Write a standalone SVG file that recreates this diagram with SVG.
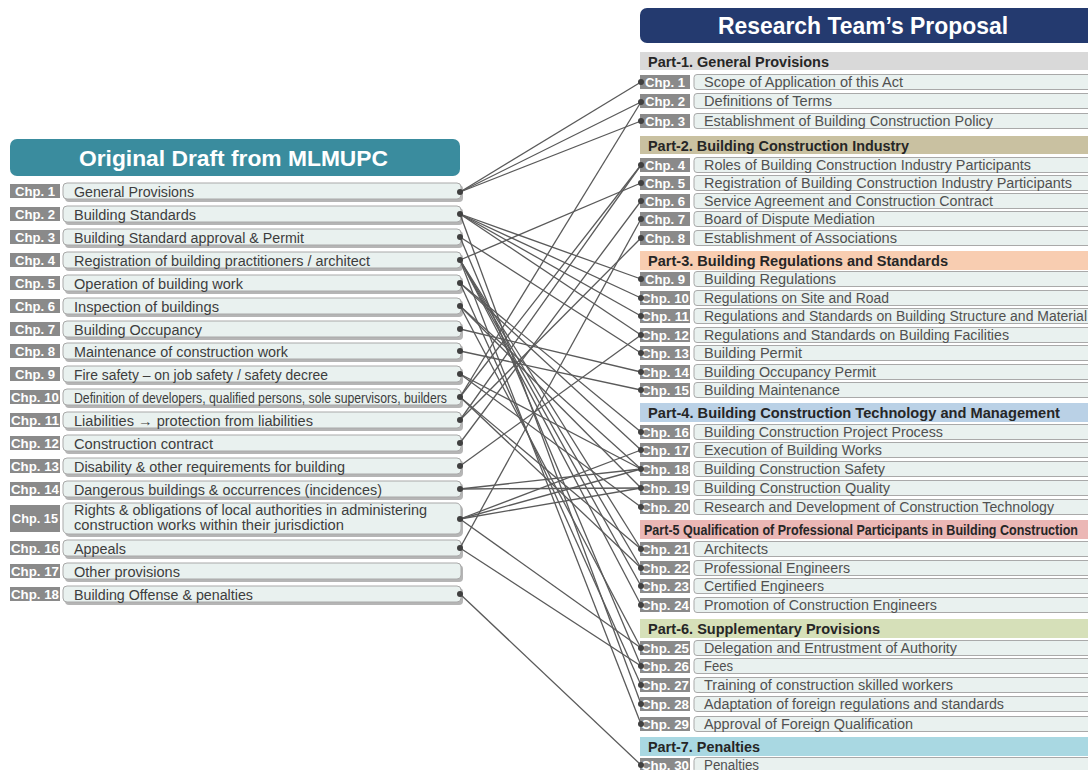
<svg xmlns="http://www.w3.org/2000/svg" width="1088" height="770" viewBox="0 0 1088 770">
<defs>
<style>
.hdrL{fill:#3a8c9e}
.hdrR{fill:#243a6f}
.hdrT{font-family:"Liberation Sans",Arial,sans-serif;font-weight:bold;fill:#ffffff}
.lab{fill:#8a8a8a}
.labT{font-family:"Liberation Sans",Arial,sans-serif;font-weight:bold;font-size:13px;fill:#ffffff}
.box{fill:#e9f1ef;stroke:#a9a9a9;stroke-width:1}
.shadow{fill:#b5b5b5}
.txt{font-family:"Liberation Sans",Arial,sans-serif;font-size:14px;fill:#3d3d3d}
.rtxt{font-family:"Liberation Sans",Arial,sans-serif;font-size:14px;fill:#505050}
.part{font-family:"Liberation Sans",Arial,sans-serif;font-weight:bold;font-size:14.5px;fill:#262626}
.con line{stroke:#5a5a5a;stroke-width:1.3}
.dot{fill:#404040}
</style>
</defs>
<rect width="1088" height="770" fill="#ffffff"/>

<g id="left-header">
<rect x="10" y="139" width="450" height="37" rx="7" class="hdrL"/>
<text x="79" y="166" class="hdrT" font-size="22" textLength="309" lengthAdjust="spacingAndGlyphs">Original Draft from MLMUPC</text>
</g>

<g id="L1"><rect x="10" y="184" width="50" height="14" class="lab"/><text x="15" y="196" class="labT" textLength="40" lengthAdjust="spacingAndGlyphs">Chp. 1</text><rect x="65" y="185" width="398" height="17" rx="4" class="shadow"/><rect x="63" y="183" width="398" height="16" rx="4" class="box"/><text x="74" y="196.5" class="txt" textLength="120" lengthAdjust="spacingAndGlyphs">General Provisions</text></g>
<g id="L2"><rect x="10" y="207" width="50" height="14" class="lab"/><text x="15" y="219" class="labT" textLength="40" lengthAdjust="spacingAndGlyphs">Chp. 2</text><rect x="65" y="208" width="398" height="17" rx="4" class="shadow"/><rect x="63" y="206" width="398" height="16" rx="4" class="box"/><text x="74" y="219.5" class="txt" textLength="122" lengthAdjust="spacingAndGlyphs">Building Standards</text></g>
<g id="L3"><rect x="10" y="230" width="50" height="14" class="lab"/><text x="15" y="242" class="labT" textLength="40" lengthAdjust="spacingAndGlyphs">Chp. 3</text><rect x="65" y="231" width="398" height="17" rx="4" class="shadow"/><rect x="63" y="229" width="398" height="16" rx="4" class="box"/><text x="74" y="242.5" class="txt" textLength="230" lengthAdjust="spacingAndGlyphs">Building Standard approval &amp; Permit</text></g>
<g id="L4"><rect x="10" y="253" width="50" height="14" class="lab"/><text x="15" y="265" class="labT" textLength="40" lengthAdjust="spacingAndGlyphs">Chp. 4</text><rect x="65" y="254" width="398" height="17" rx="4" class="shadow"/><rect x="63" y="252" width="398" height="16" rx="4" class="box"/><text x="74" y="265.5" class="txt" textLength="296" lengthAdjust="spacingAndGlyphs">Registration of building practitioners / architect</text></g>
<g id="L5"><rect x="10" y="276" width="50" height="14" class="lab"/><text x="15" y="288" class="labT" textLength="40" lengthAdjust="spacingAndGlyphs">Chp. 5</text><rect x="65" y="277" width="398" height="17" rx="4" class="shadow"/><rect x="63" y="275" width="398" height="16" rx="4" class="box"/><text x="74" y="288.5" class="txt" textLength="169" lengthAdjust="spacingAndGlyphs">Operation of building work</text></g>
<g id="L6"><rect x="10" y="299" width="50" height="14" class="lab"/><text x="15" y="311" class="labT" textLength="40" lengthAdjust="spacingAndGlyphs">Chp. 6</text><rect x="65" y="300" width="398" height="17" rx="4" class="shadow"/><rect x="63" y="298" width="398" height="16" rx="4" class="box"/><text x="74" y="311.5" class="txt" textLength="145" lengthAdjust="spacingAndGlyphs">Inspection of buildings</text></g>
<g id="L7"><rect x="10" y="322" width="50" height="14" class="lab"/><text x="15" y="334" class="labT" textLength="40" lengthAdjust="spacingAndGlyphs">Chp. 7</text><rect x="65" y="323" width="398" height="17" rx="4" class="shadow"/><rect x="63" y="321" width="398" height="16" rx="4" class="box"/><text x="74" y="334.5" class="txt" textLength="128" lengthAdjust="spacingAndGlyphs">Building Occupancy</text></g>
<g id="L8"><rect x="10" y="344" width="50" height="14" class="lab"/><text x="15" y="356" class="labT" textLength="40" lengthAdjust="spacingAndGlyphs">Chp. 8</text><rect x="65" y="345" width="398" height="17" rx="4" class="shadow"/><rect x="63" y="343" width="398" height="16" rx="4" class="box"/><text x="74" y="356.5" class="txt" textLength="214" lengthAdjust="spacingAndGlyphs">Maintenance of construction work</text></g>
<g id="L9"><rect x="10" y="367" width="50" height="14" class="lab"/><text x="15" y="379" class="labT" textLength="40" lengthAdjust="spacingAndGlyphs">Chp. 9</text><rect x="65" y="368" width="398" height="17" rx="4" class="shadow"/><rect x="63" y="366" width="398" height="16" rx="4" class="box"/><text x="74" y="379.5" class="txt" textLength="254" lengthAdjust="spacingAndGlyphs">Fire safety – on job safety / safety decree</text></g>
<g id="L10"><rect x="10" y="390" width="50" height="14" class="lab"/><text x="11" y="402" class="labT" textLength="48" lengthAdjust="spacingAndGlyphs">Chp. 10</text><rect x="65" y="391" width="398" height="17" rx="4" class="shadow"/><rect x="63" y="389" width="398" height="16" rx="4" class="box"/><text x="74" y="402.5" class="txt" textLength="373" lengthAdjust="spacingAndGlyphs">Definition of developers, qualified persons, sole supervisors, builders</text></g>
<g id="L11"><rect x="10" y="413" width="50" height="14" class="lab"/><text x="11" y="425" class="labT" textLength="48" lengthAdjust="spacingAndGlyphs">Chp. 11</text><rect x="65" y="414" width="398" height="17" rx="4" class="shadow"/><rect x="63" y="412" width="398" height="16" rx="4" class="box"/><text x="74" y="425.5" class="txt" textLength="239" lengthAdjust="spacingAndGlyphs">Liabilities → protection from liabilities</text></g>
<g id="L12"><rect x="10" y="436" width="50" height="14" class="lab"/><text x="11" y="448" class="labT" textLength="48" lengthAdjust="spacingAndGlyphs">Chp. 12</text><rect x="65" y="437" width="398" height="17" rx="4" class="shadow"/><rect x="63" y="435" width="398" height="16" rx="4" class="box"/><text x="74" y="448.5" class="txt" textLength="139" lengthAdjust="spacingAndGlyphs">Construction contract</text></g>
<g id="L13"><rect x="10" y="459" width="50" height="14" class="lab"/><text x="11" y="471" class="labT" textLength="48" lengthAdjust="spacingAndGlyphs">Chp. 13</text><rect x="65" y="460" width="398" height="17" rx="4" class="shadow"/><rect x="63" y="458" width="398" height="16" rx="4" class="box"/><text x="74" y="471.5" class="txt" textLength="271" lengthAdjust="spacingAndGlyphs">Disability &amp; other requirements for building</text></g>
<g id="L14"><rect x="10" y="482" width="50" height="14" class="lab"/><text x="11" y="494" class="labT" textLength="48" lengthAdjust="spacingAndGlyphs">Chp. 14</text><rect x="65" y="483" width="398" height="17" rx="4" class="shadow"/><rect x="63" y="481" width="398" height="16" rx="4" class="box"/><text x="74" y="494.5" class="txt" textLength="308" lengthAdjust="spacingAndGlyphs">Dangerous buildings &amp; occurrences (incidences)</text></g>
<g id="L15"><rect x="10" y="505" width="50" height="27" class="lab"/><text x="12" y="523" class="labT" textLength="46" lengthAdjust="spacingAndGlyphs">Chp. 15</text><rect x="65" y="505" width="398" height="32" rx="5" class="shadow"/><rect x="63" y="503" width="398" height="31" rx="5" class="box"/><text x="74" y="515" class="txt" textLength="353" lengthAdjust="spacingAndGlyphs">Rights &amp; obligations of local authorities in administering</text><text x="74" y="530" class="txt" textLength="270" lengthAdjust="spacingAndGlyphs">construction works within their jurisdiction</text></g>
<g id="L16"><rect x="10" y="541" width="50" height="14" class="lab"/><text x="11" y="553" class="labT" textLength="48" lengthAdjust="spacingAndGlyphs">Chp. 16</text><rect x="65" y="542" width="398" height="17" rx="4" class="shadow"/><rect x="63" y="540" width="398" height="16" rx="4" class="box"/><text x="74" y="553.5" class="txt" textLength="52" lengthAdjust="spacingAndGlyphs">Appeals</text></g>
<g id="L17"><rect x="10" y="564" width="50" height="14" class="lab"/><text x="11" y="576" class="labT" textLength="48" lengthAdjust="spacingAndGlyphs">Chp. 17</text><rect x="65" y="565" width="398" height="17" rx="4" class="shadow"/><rect x="63" y="563" width="398" height="16" rx="4" class="box"/><text x="74" y="576.5" class="txt" textLength="106" lengthAdjust="spacingAndGlyphs">Other provisions</text></g>
<g id="L18"><rect x="10" y="587" width="50" height="14" class="lab"/><text x="11" y="599" class="labT" textLength="48" lengthAdjust="spacingAndGlyphs">Chp. 18</text><rect x="65" y="588" width="398" height="17" rx="4" class="shadow"/><rect x="63" y="586" width="398" height="16" rx="4" class="box"/><text x="74" y="599.5" class="txt" textLength="179" lengthAdjust="spacingAndGlyphs">Building Offense &amp; penalties</text></g>

<g id="right-header">
<rect x="640" y="8" width="460" height="35" rx="7" class="hdrR"/>
<text x="718" y="34" class="hdrT" font-size="23" textLength="290" lengthAdjust="spacingAndGlyphs">Research Team’s Proposal</text>
</g>

<g id="P1"><rect x="640" y="52" width="448" height="18" fill="#d9d9d9"/><text x="648" y="66.5" class="part" textLength="181" lengthAdjust="spacingAndGlyphs">Part-1. General Provisions</text></g>
<g id="P2"><rect x="640" y="136" width="448" height="18" fill="#c9c1a1"/><text x="648" y="150.5" class="part" textLength="261" lengthAdjust="spacingAndGlyphs">Part-2. Building Construction Industry</text></g>
<g id="P3"><rect x="640" y="251" width="448" height="19" fill="#f8cdb1"/><text x="648" y="266" class="part" textLength="300" lengthAdjust="spacingAndGlyphs">Part-3. Building Regulations and Standards</text></g>
<g id="P4"><rect x="640" y="403" width="448" height="19" fill="#bad1e6"/><text x="648" y="418" class="part" textLength="412" lengthAdjust="spacingAndGlyphs">Part-4. Building Construction Technology and Management</text></g>
<g id="P5"><rect x="640" y="520" width="448" height="19" fill="#ebb7b5"/><text x="644" y="534.5" class="part" font-size="13.5" textLength="434" lengthAdjust="spacingAndGlyphs">Part-5 Qualification of Professional Participants in Building Construction</text></g>
<g id="P6"><rect x="640" y="619" width="448" height="19" fill="#d6e0b9"/><text x="648" y="634" class="part" textLength="232" lengthAdjust="spacingAndGlyphs">Part-6. Supplementary Provisions</text></g>
<g id="P7"><rect x="640" y="737" width="448" height="19" fill="#a9d8e2"/><text x="648" y="752" class="part" textLength="112" lengthAdjust="spacingAndGlyphs">Part-7. Penalties</text></g>

<g id="R1"><rect x="640" y="75" width="50" height="14" class="lab"/><text x="645" y="87" class="labT" textLength="40" lengthAdjust="spacingAndGlyphs">Chp. 1</text><rect x="694" y="74.5" width="400" height="15" rx="3" class="box"/><text x="704" y="87" class="rtxt" textLength="199" lengthAdjust="spacingAndGlyphs">Scope of Application of this Act</text></g>
<g id="R2"><rect x="640" y="94" width="50" height="14" class="lab"/><text x="645" y="106" class="labT" textLength="40" lengthAdjust="spacingAndGlyphs">Chp. 2</text><rect x="694" y="93.5" width="400" height="15" rx="3" class="box"/><text x="704" y="106" class="rtxt" textLength="128" lengthAdjust="spacingAndGlyphs">Definitions of Terms</text></g>
<g id="R3"><rect x="640" y="114" width="50" height="14" class="lab"/><text x="645" y="126" class="labT" textLength="40" lengthAdjust="spacingAndGlyphs">Chp. 3</text><rect x="694" y="113.5" width="400" height="15" rx="3" class="box"/><text x="704" y="126" class="rtxt" textLength="289" lengthAdjust="spacingAndGlyphs">Establishment of Building Construction Policy</text></g>
<g id="R4"><rect x="640" y="158" width="50" height="14" class="lab"/><text x="645" y="170" class="labT" textLength="40" lengthAdjust="spacingAndGlyphs">Chp. 4</text><rect x="694" y="157.5" width="400" height="15" rx="3" class="box"/><text x="704" y="170" class="rtxt" textLength="327" lengthAdjust="spacingAndGlyphs">Roles of Building Construction Industry Participants</text></g>
<g id="R5"><rect x="640" y="176" width="50" height="14" class="lab"/><text x="645" y="188" class="labT" textLength="40" lengthAdjust="spacingAndGlyphs">Chp. 5</text><rect x="694" y="175.5" width="400" height="15" rx="3" class="box"/><text x="704" y="188" class="rtxt" textLength="368" lengthAdjust="spacingAndGlyphs">Registration of Building Construction Industry Participants</text></g>
<g id="R6"><rect x="640" y="194" width="50" height="14" class="lab"/><text x="645" y="206" class="labT" textLength="40" lengthAdjust="spacingAndGlyphs">Chp. 6</text><rect x="694" y="193.5" width="400" height="15" rx="3" class="box"/><text x="704" y="206" class="rtxt" textLength="289" lengthAdjust="spacingAndGlyphs">Service Agreement and Construction Contract</text></g>
<g id="R7"><rect x="640" y="212" width="50" height="14" class="lab"/><text x="645" y="224" class="labT" textLength="40" lengthAdjust="spacingAndGlyphs">Chp. 7</text><rect x="694" y="211.5" width="400" height="15" rx="3" class="box"/><text x="704" y="224" class="rtxt" textLength="171" lengthAdjust="spacingAndGlyphs">Board of Dispute Mediation</text></g>
<g id="R8"><rect x="640" y="231" width="50" height="14" class="lab"/><text x="645" y="243" class="labT" textLength="40" lengthAdjust="spacingAndGlyphs">Chp. 8</text><rect x="694" y="230.5" width="400" height="15" rx="3" class="box"/><text x="704" y="243" class="rtxt" textLength="193" lengthAdjust="spacingAndGlyphs">Establishment of Associations</text></g>
<g id="R9"><rect x="640" y="272" width="50" height="14" class="lab"/><text x="645" y="284" class="labT" textLength="40" lengthAdjust="spacingAndGlyphs">Chp. 9</text><rect x="694" y="271.5" width="400" height="15" rx="3" class="box"/><text x="704" y="284" class="rtxt" textLength="132" lengthAdjust="spacingAndGlyphs">Building Regulations</text></g>
<g id="R10"><rect x="640" y="291" width="50" height="14" class="lab"/><text x="641" y="303" class="labT" textLength="48" lengthAdjust="spacingAndGlyphs">Chp. 10</text><rect x="694" y="290.5" width="400" height="15" rx="3" class="box"/><text x="704" y="303" class="rtxt" textLength="185" lengthAdjust="spacingAndGlyphs">Regulations on Site and Road</text></g>
<g id="R11"><rect x="640" y="309" width="50" height="14" class="lab"/><text x="641" y="321" class="labT" textLength="48" lengthAdjust="spacingAndGlyphs">Chp. 11</text><rect x="694" y="308.5" width="400" height="15" rx="3" class="box"/><text x="704" y="321" class="rtxt" textLength="383" lengthAdjust="spacingAndGlyphs">Regulations and Standards on Building Structure and Material</text></g>
<g id="R12"><rect x="640" y="328" width="50" height="14" class="lab"/><text x="641" y="340" class="labT" textLength="48" lengthAdjust="spacingAndGlyphs">Chp. 12</text><rect x="694" y="327.5" width="400" height="15" rx="3" class="box"/><text x="704" y="340" class="rtxt" textLength="305" lengthAdjust="spacingAndGlyphs">Regulations and Standards on Building Facilities</text></g>
<g id="R13"><rect x="640" y="346" width="50" height="14" class="lab"/><text x="641" y="358" class="labT" textLength="48" lengthAdjust="spacingAndGlyphs">Chp. 13</text><rect x="694" y="345.5" width="400" height="15" rx="3" class="box"/><text x="704" y="358" class="rtxt" textLength="98" lengthAdjust="spacingAndGlyphs">Building Permit</text></g>
<g id="R14"><rect x="640" y="365" width="50" height="14" class="lab"/><text x="641" y="377" class="labT" textLength="48" lengthAdjust="spacingAndGlyphs">Chp. 14</text><rect x="694" y="364.5" width="400" height="15" rx="3" class="box"/><text x="704" y="377" class="rtxt" textLength="172" lengthAdjust="spacingAndGlyphs">Building Occupancy Permit</text></g>
<g id="R15"><rect x="640" y="383" width="50" height="14" class="lab"/><text x="641" y="395" class="labT" textLength="48" lengthAdjust="spacingAndGlyphs">Chp. 15</text><rect x="694" y="382.5" width="400" height="15" rx="3" class="box"/><text x="704" y="395" class="rtxt" textLength="136" lengthAdjust="spacingAndGlyphs">Building Maintenance</text></g>
<g id="R16"><rect x="640" y="425" width="50" height="14" class="lab"/><text x="641" y="437" class="labT" textLength="48" lengthAdjust="spacingAndGlyphs">Chp. 16</text><rect x="694" y="424.5" width="400" height="15" rx="3" class="box"/><text x="704" y="437" class="rtxt" textLength="239" lengthAdjust="spacingAndGlyphs">Building Construction Project Process</text></g>
<g id="R17"><rect x="640" y="443" width="50" height="14" class="lab"/><text x="641" y="455" class="labT" textLength="48" lengthAdjust="spacingAndGlyphs">Chp. 17</text><rect x="694" y="442.5" width="400" height="15" rx="3" class="box"/><text x="704" y="455" class="rtxt" textLength="178" lengthAdjust="spacingAndGlyphs">Execution of Building Works</text></g>
<g id="R18"><rect x="640" y="462" width="50" height="14" class="lab"/><text x="641" y="474" class="labT" textLength="48" lengthAdjust="spacingAndGlyphs">Chp. 18</text><rect x="694" y="461.5" width="400" height="15" rx="3" class="box"/><text x="704" y="474" class="rtxt" textLength="181" lengthAdjust="spacingAndGlyphs">Building Construction Safety</text></g>
<g id="R19"><rect x="640" y="481" width="50" height="14" class="lab"/><text x="641" y="493" class="labT" textLength="48" lengthAdjust="spacingAndGlyphs">Chp. 19</text><rect x="694" y="480.5" width="400" height="15" rx="3" class="box"/><text x="704" y="493" class="rtxt" textLength="186" lengthAdjust="spacingAndGlyphs">Building Construction Quality</text></g>
<g id="R20"><rect x="640" y="500" width="50" height="14" class="lab"/><text x="641" y="512" class="labT" textLength="48" lengthAdjust="spacingAndGlyphs">Chp. 20</text><rect x="694" y="499.5" width="400" height="15" rx="3" class="box"/><text x="704" y="512" class="rtxt" textLength="350" lengthAdjust="spacingAndGlyphs">Research and Development of Construction Technology</text></g>
<g id="R21"><rect x="640" y="542" width="50" height="14" class="lab"/><text x="641" y="554" class="labT" textLength="48" lengthAdjust="spacingAndGlyphs">Chp. 21</text><rect x="694" y="541.5" width="400" height="15" rx="3" class="box"/><text x="704" y="554" class="rtxt" textLength="64" lengthAdjust="spacingAndGlyphs">Architects</text></g>
<g id="R22"><rect x="640" y="561" width="50" height="14" class="lab"/><text x="641" y="573" class="labT" textLength="48" lengthAdjust="spacingAndGlyphs">Chp. 22</text><rect x="694" y="560.5" width="400" height="15" rx="3" class="box"/><text x="704" y="573" class="rtxt" textLength="146" lengthAdjust="spacingAndGlyphs">Professional Engineers</text></g>
<g id="R23"><rect x="640" y="579" width="50" height="14" class="lab"/><text x="641" y="591" class="labT" textLength="48" lengthAdjust="spacingAndGlyphs">Chp. 23</text><rect x="694" y="578.5" width="400" height="15" rx="3" class="box"/><text x="704" y="591" class="rtxt" textLength="120" lengthAdjust="spacingAndGlyphs">Certified Engineers</text></g>
<g id="R24"><rect x="640" y="598" width="50" height="14" class="lab"/><text x="641" y="610" class="labT" textLength="48" lengthAdjust="spacingAndGlyphs">Chp. 24</text><rect x="694" y="597.5" width="400" height="15" rx="3" class="box"/><text x="704" y="610" class="rtxt" textLength="233" lengthAdjust="spacingAndGlyphs">Promotion of Construction Engineers</text></g>
<g id="R25"><rect x="640" y="641" width="50" height="14" class="lab"/><text x="641" y="653" class="labT" textLength="48" lengthAdjust="spacingAndGlyphs">Chp. 25</text><rect x="694" y="640.5" width="400" height="15" rx="3" class="box"/><text x="704" y="653" class="rtxt" textLength="253" lengthAdjust="spacingAndGlyphs">Delegation and Entrustment of Authority</text></g>
<g id="R26"><rect x="640" y="659" width="50" height="14" class="lab"/><text x="641" y="671" class="labT" textLength="48" lengthAdjust="spacingAndGlyphs">Chp. 26</text><rect x="694" y="658.5" width="400" height="15" rx="3" class="box"/><text x="704" y="671" class="rtxt" textLength="29" lengthAdjust="spacingAndGlyphs">Fees</text></g>
<g id="R27"><rect x="640" y="678" width="50" height="14" class="lab"/><text x="641" y="690" class="labT" textLength="48" lengthAdjust="spacingAndGlyphs">Chp. 27</text><rect x="694" y="677.5" width="400" height="15" rx="3" class="box"/><text x="704" y="690" class="rtxt" textLength="249" lengthAdjust="spacingAndGlyphs">Training of construction skilled workers</text></g>
<g id="R28"><rect x="640" y="697" width="50" height="14" class="lab"/><text x="641" y="709" class="labT" textLength="48" lengthAdjust="spacingAndGlyphs">Chp. 28</text><rect x="694" y="696.5" width="400" height="15" rx="3" class="box"/><text x="704" y="709" class="rtxt" textLength="300" lengthAdjust="spacingAndGlyphs">Adaptation of foreign regulations and standards</text></g>
<g id="R29"><rect x="640" y="717" width="50" height="14" class="lab"/><text x="641" y="729" class="labT" textLength="48" lengthAdjust="spacingAndGlyphs">Chp. 29</text><rect x="694" y="716.5" width="400" height="15" rx="3" class="box"/><text x="704" y="729" class="rtxt" textLength="209" lengthAdjust="spacingAndGlyphs">Approval of Foreign Qualification</text></g>
<g id="R30"><rect x="640" y="758" width="50" height="14" class="lab"/><text x="641" y="769.5" class="labT" textLength="48" lengthAdjust="spacingAndGlyphs">Chp. 30</text><rect x="694" y="757.5" width="400" height="15" rx="3" class="box"/><text x="704" y="769.5" class="rtxt" textLength="55" lengthAdjust="spacingAndGlyphs">Penalties</text></g>

<g id="connectors" class="con">
<line x1="460" y1="192" x2="641" y2="82"/>
<line x1="460" y1="192" x2="641" y2="102"/>
<line x1="460" y1="192" x2="641" y2="121"/>
<line x1="460" y1="214" x2="641" y2="279"/>
<line x1="460" y1="214" x2="641" y2="298"/>
<line x1="460" y1="214" x2="641" y2="316"/>
<line x1="460" y1="214" x2="641" y2="335"/>
<line x1="460" y1="214" x2="641" y2="704"/>
<line x1="460" y1="237" x2="641" y2="353"/>
<line x1="460" y1="237" x2="641" y2="666"/>
<line x1="460" y1="260" x2="641" y2="183"/>
<line x1="460" y1="260" x2="641" y2="549"/>
<line x1="460" y1="260" x2="641" y2="568"/>
<line x1="460" y1="260" x2="641" y2="586"/>
<line x1="460" y1="260" x2="641" y2="605"/>
<line x1="460" y1="260" x2="641" y2="724"/>
<line x1="460" y1="283" x2="641" y2="432"/>
<line x1="460" y1="283" x2="641" y2="450"/>
<line x1="460" y1="283" x2="641" y2="685"/>
<line x1="460" y1="306" x2="641" y2="469"/>
<line x1="460" y1="306" x2="641" y2="488"/>
<line x1="460" y1="306" x2="641" y2="648"/>
<line x1="460" y1="329" x2="641" y2="372"/>
<line x1="460" y1="351" x2="641" y2="390"/>
<line x1="460" y1="374" x2="641" y2="469"/>
<line x1="460" y1="374" x2="641" y2="507"/>
<line x1="460" y1="397" x2="641" y2="102"/>
<line x1="460" y1="397" x2="641" y2="165"/>
<line x1="460" y1="397" x2="641" y2="549"/>
<line x1="460" y1="397" x2="641" y2="568"/>
<line x1="460" y1="420" x2="641" y2="165"/>
<line x1="460" y1="420" x2="641" y2="238"/>
<line x1="460" y1="443" x2="641" y2="201"/>
<line x1="460" y1="466" x2="641" y2="335"/>
<line x1="460" y1="489" x2="641" y2="469"/>
<line x1="460" y1="489" x2="641" y2="488"/>
<line x1="460" y1="519" x2="641" y2="450"/>
<line x1="460" y1="519" x2="641" y2="469"/>
<line x1="460" y1="519" x2="641" y2="488"/>
<line x1="460" y1="519" x2="641" y2="648"/>
<line x1="460" y1="548" x2="641" y2="219"/>
<line x1="460" y1="548" x2="641" y2="666"/>
<line x1="460" y1="594" x2="641" y2="765"/>
</g>

<g id="dots" class="dot">
<circle cx="460" cy="192" r="3"/><circle cx="460" cy="214" r="3"/><circle cx="460" cy="237" r="3"/><circle cx="460" cy="260" r="3"/><circle cx="460" cy="283" r="3"/><circle cx="460" cy="306" r="3"/><circle cx="460" cy="329" r="3"/><circle cx="460" cy="351" r="3"/><circle cx="460" cy="374" r="3"/><circle cx="460" cy="397" r="3"/><circle cx="460" cy="420" r="3"/><circle cx="460" cy="443" r="3"/><circle cx="460" cy="466" r="3"/><circle cx="460" cy="489" r="3"/><circle cx="460" cy="519" r="3"/><circle cx="460" cy="548" r="3"/><circle cx="460" cy="594" r="3"/>
<circle cx="641" cy="82" r="3"/><circle cx="641" cy="102" r="3"/><circle cx="641" cy="121" r="3"/><circle cx="641" cy="165" r="3"/><circle cx="641" cy="183" r="3"/><circle cx="641" cy="201" r="3"/><circle cx="641" cy="219" r="3"/><circle cx="641" cy="238" r="3"/><circle cx="641" cy="279" r="3"/><circle cx="641" cy="298" r="3"/><circle cx="641" cy="316" r="3"/><circle cx="641" cy="335" r="3"/><circle cx="641" cy="353" r="3"/><circle cx="641" cy="372" r="3"/><circle cx="641" cy="390" r="3"/><circle cx="641" cy="432" r="3"/><circle cx="641" cy="450" r="3"/><circle cx="641" cy="469" r="3"/><circle cx="641" cy="488" r="3"/><circle cx="641" cy="507" r="3"/><circle cx="641" cy="549" r="3"/><circle cx="641" cy="568" r="3"/><circle cx="641" cy="586" r="3"/><circle cx="641" cy="605" r="3"/><circle cx="641" cy="648" r="3"/><circle cx="641" cy="666" r="3"/><circle cx="641" cy="685" r="3"/><circle cx="641" cy="704" r="3"/><circle cx="641" cy="724" r="3"/><circle cx="641" cy="765" r="3"/>
</g>
</svg>
